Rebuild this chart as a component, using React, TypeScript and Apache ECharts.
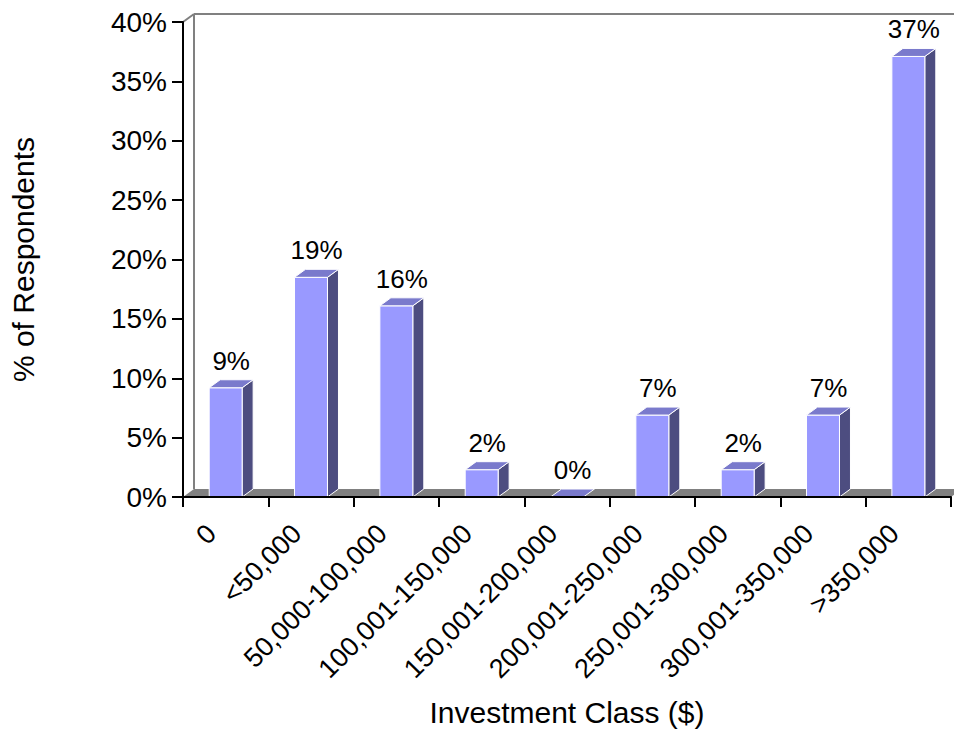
import React, { useEffect, useRef } from "react";
import * as echarts from "echarts";

const categories = [
  "0",
  "<50,000",
  "50,000-100,000",
  "100,001-150,000",
  "150,001-200,000",
  "200,001-250,000",
  "250,001-300,000",
  "300,001-350,000",
  ">350,000",
];
const values = [9.2, 18.5, 16.1, 2.3, 0, 6.9, 2.3, 6.9, 37.1];
const dataLabels = ["9%", "19%", "16%", "2%", "0%", "7%", "2%", "7%", "37%"];

const FONT = "Arial, 'Liberation Sans', Helvetica, sans-serif";
const DX = 11;
const DY = -8;
const FRONT = "#9999FF";
const TOPC = "#7A7ACC";
const SIDE = "#4D4D80";
const FLOOR = "#808080";

export default function App() {
  const ref = useRef<HTMLDivElement>(null);
  useEffect(() => {
    document.body.style.margin = "0";
    const chart = echarts.init(ref.current!, null, { renderer: "svg" });
    const option: any = {
      animation: false,
      backgroundColor: "#ffffff",
      grid: { left: 183, top: 22, width: 768, height: 475, containLabel: false },
      xAxis: {
        type: "category",
        data: categories,
        z: 10,
        name: "Investment Class ($)",
        nameLocation: "middle",
        nameGap: 200,
        nameTextStyle: { fontFamily: FONT, fontSize: 30, color: "#000" },
        axisLine: { show: true, lineStyle: { color: "#000", width: 2 } },
        axisTick: { show: true, length: 10, alignWithLabel: false, interval: 0, lineStyle: { color: "#000", width: 2 } },
        axisLabel: {
          interval: 0,
          rotate: 45,
          margin: 18,
          padding: [0, 20, 0, 0],
          fontFamily: FONT,
          fontSize: 27,
          color: "#000",
        },
        splitLine: { show: false },
      },
      yAxis: {
        type: "value",
        min: 0,
        max: 40,
        interval: 5,
        z: 10,
        name: "% of Respondents",
        nameLocation: "middle",
        nameGap: 145,
        nameTextStyle: { fontFamily: FONT, fontSize: 30, color: "#000" },
        axisLine: { show: true, lineStyle: { color: "#000", width: 2 } },
        axisTick: { show: true, length: 11, lineStyle: { color: "#000", width: 2 } },
        axisLabel: {
          formatter: "{value}%",
          margin: 16,
          fontFamily: FONT,
          fontSize: 28,
          color: "#000",
        },
        splitLine: { show: false },
      },
      series: [
        {
          type: "custom",
          name: "floor",
          clip: false,
          z: 1,
          silent: true,
          data: [[0, 0]],
          encode: { x: 0, y: 1 },
          renderItem: (params: any) => {
            const cs = params.coordSys;
            const x0 = cs.x;
            const y0 = cs.y;
            const w = cs.width;
            const h = cs.height;
            const gray = { stroke: FLOOR, lineWidth: 2, fill: "none" };
            return {
              type: "group",
              children: [
                {
                  type: "polygon",
                  shape: {
                    points: [
                      [x0, y0 + h],
                      [x0 + w, y0 + h],
                      [x0 + w + DX, y0 + h + DY],
                      [x0 + DX, y0 + h + DY],
                    ],
                  },
                  style: { fill: FLOOR },
                },
                { type: "line", shape: { x1: x0 + DX, y1: y0 + DY, x2: x0 + DX, y2: y0 + h + DY }, style: gray },
                { type: "line", shape: { x1: x0 + DX, y1: y0 + DY, x2: x0 + w + DX, y2: y0 + DY }, style: gray },
                { type: "line", shape: { x1: x0, y1: y0, x2: x0 + DX, y2: y0 + DY }, style: gray },
              ],
            };
          },
        },
        {
          type: "custom",
          name: "bars",
          clip: false,
          z: 2,
          data: values.map((v, i) => [i, v]),
          encode: { x: 0, y: 1 },
          renderItem: (params: any, api: any) => {
            const idx = api.value(0);
            const val = api.value(1);
            const top = api.coord([idx, val]);
            const base = api.coord([idx, 0]);
            const band = api.size([1, 0])[0];
            const w = band * 0.386;
            const x = top[0] - w / 2;
            const ty = top[1];
            const by = base[1];
            const edge = { stroke: "#ffffff", lineWidth: 1 };
            const children: any[] = [];
            if (by - ty > 0.5) {
              children.push({
                type: "polygon",
                shape: { points: [[x + w, ty], [x + w + DX, ty + DY], [x + w + DX, by + DY], [x + w, by]] },
                style: { fill: SIDE, ...edge },
              });
              children.push({
                type: "rect",
                shape: { x, y: ty, width: w, height: by - ty },
                style: { fill: FRONT, ...edge },
              });
            }
            children.push({
              type: "polygon",
              shape: { points: [[x, ty], [x + DX, ty + DY], [x + w + DX, ty + DY], [x + w, ty]] },
              style: { fill: TOPC, ...edge },
            });
            children.push({
              type: "text",
              x: x + w / 2 + DX / 2,
              y: ty + DY - 6,
              style: {
                text: dataLabels[idx],
                fontFamily: FONT,
                fontSize: 26,
                fill: "#000",
                align: "center",
                verticalAlign: "bottom",
              },
            });
            return { type: "group", children };
          },
        },
      ],
    };
    chart.setOption(option);
    return () => chart.dispose();
  }, []);
  return <div ref={ref} style={{ width: 954, height: 734 }} />;
}
